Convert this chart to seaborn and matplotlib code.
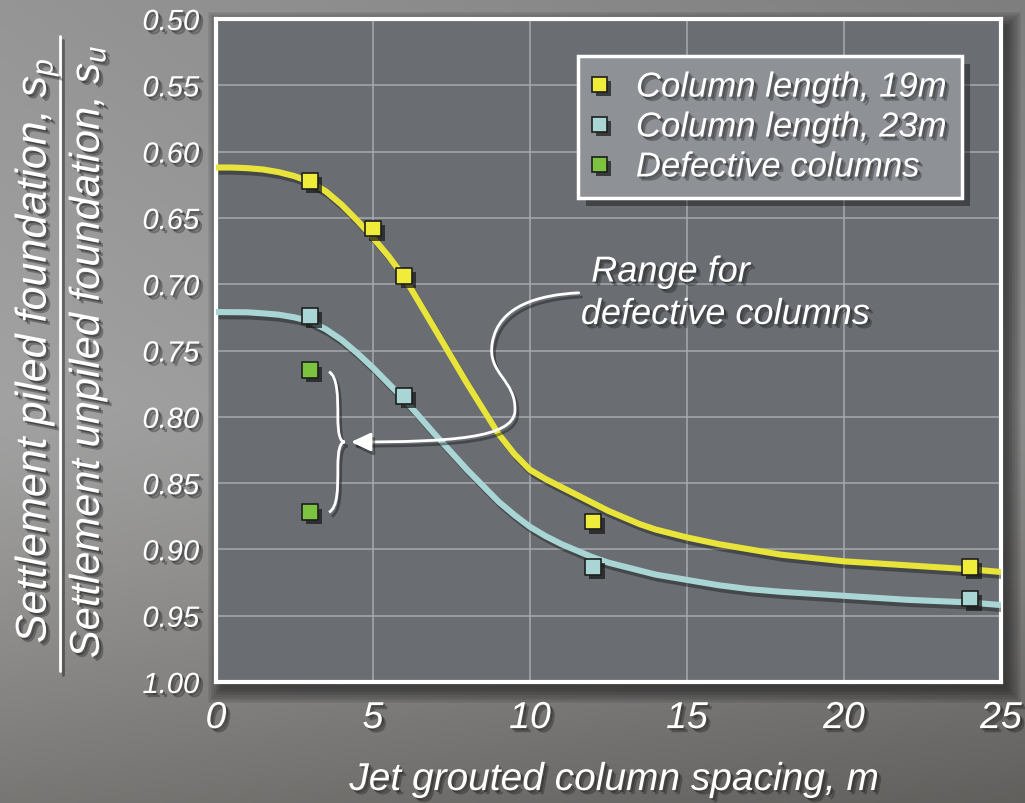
import numpy as np
import pandas as pd
import matplotlib
matplotlib.use("Agg")
import matplotlib.pyplot as plt
import matplotlib.patheffects as pe
from matplotlib.path import Path
from matplotlib.patches import FancyArrowPatch, PathPatch, Rectangle
from matplotlib.lines import Line2D
from matplotlib.font_manager import FontProperties
import seaborn as sns

# ---- measured settlement ratios ----
spacing_19m = [3, 5, 6, 12, 24]
ratio_19m = [0.622, 0.658, 0.694, 0.879, 0.913]

spacing_23m = [3, 6, 12, 24]
ratio_23m = [0.724, 0.784, 0.913, 0.937]

spacing_defect = [3, 3]
ratio_defect = [0.765, 0.872]

# ---- hand-fitted trend curves ----
trend_x_19m = [0, 0.5, 1, 1.5, 2, 2.5, 3, 3.5, 4, 4.5, 5, 5.5, 6, 7, 8, 9, 9.5,
               10, 10.5, 11, 11.5, 12, 12.5, 13, 13.5, 14, 15, 16, 17, 18, 20,
               22, 24, 25]
trend_y_19m = [0.612, 0.612, 0.6125, 0.6135, 0.6155, 0.6185, 0.623, 0.630,
               0.640, 0.652, 0.665, 0.679, 0.695, 0.735, 0.775, 0.813, 0.828,
               0.840, 0.847, 0.853, 0.859, 0.865, 0.871, 0.876, 0.881, 0.885,
               0.891, 0.896, 0.900, 0.904, 0.909, 0.912, 0.915, 0.917]

trend_x_23m = [0, 1, 1.5, 2, 2.5, 3, 3.5, 4, 4.5, 5, 5.5, 6, 7, 8, 9, 9.5, 10,
               10.5, 11, 11.5, 12, 12.5, 13, 14, 15, 16, 17, 18, 20, 22, 24, 25]
trend_y_23m = [0.721, 0.7212, 0.722, 0.723, 0.725, 0.728, 0.734, 0.742, 0.752,
               0.763, 0.775, 0.787, 0.814, 0.840, 0.864, 0.874, 0.883, 0.890,
               0.896, 0.901, 0.906, 0.910, 0.913, 0.919, 0.923, 0.927, 0.930,
               0.932, 0.935, 0.938, 0.940, 0.942]

x_ticks = [0, 5, 10, 15, 20, 25]
y_ticks = [0.50, 0.55, 0.60, 0.65, 0.70, 0.75, 0.80, 0.85, 0.90, 0.95, 1.00]

legend_labels = ["Column length, 19m", "Column length, 23m", "Defective columns"]

YELLOW = "#f0ec3a"
YELLOW_LINE = "#e8e43a"
CYAN = "#a9d5d5"
GREEN = "#7cc440"
PANEL = "#6a6e73"
GRID = "#a7abaf"
LEGEND_FACE = "#8e9297"

sns.set_theme(style="white")
plt.rcParams["font.family"] = ["Liberation Sans", "DejaVu Sans"]
plt.rcParams["font.style"] = "italic"
plt.rcParams["mathtext.fontset"] = "custom"
plt.rcParams["mathtext.rm"] = "Liberation Sans:italic"
plt.rcParams["mathtext.it"] = "Liberation Sans:italic"

W, H = 1025, 804
fig = plt.figure(figsize=(W / 100, H / 100), dpi=100)


def fx(px):
    return px / W


def fy(py):
    return 1 - py / H


text_fx = [pe.SimplePatchShadow(offset=(3, -3), shadow_rgbFace="#1c1c1c", alpha=0.35),
           pe.SimplePatchShadow(offset=(1.5, -1.5), shadow_rgbFace="#1c1c1c", alpha=0.45),
           pe.Normal()]
line_fx = [pe.SimpleLineShadow(offset=(2, -3), shadow_color="#1a1a1a", alpha=0.45),
           pe.Normal()]
mark_fx = [pe.SimplePatchShadow(offset=(3, -3), shadow_rgbFace="#151515", alpha=0.7),
           pe.Normal()]

# ---- shaded backdrop ----
bg = fig.add_axes([0, 0, 1, 1], zorder=-10)
bg.set_axis_off()
gy, gx = np.mgrid[0:1:300j, 0:1:300j]
upper = np.clip((0.5 - gy) / 0.5, 0, 1)
lower = np.clip((gy - 0.5) / 0.5, 0, 1)
v = 0.635 - 0.09 * gx - 0.05 * upper - 0.17 * lower ** 1.3
rgb = np.dstack([v + 0.008 * lower, v, v - 0.01 * lower])
bg.imshow(np.clip(rgb, 0, 1), extent=[0, 1, 0, 1], aspect="auto",
          interpolation="bicubic", origin="upper")
bg.set_xlim(0, 1)
bg.set_ylim(0, 1)

# soft shadow behind the plotting panel
ax_l, ax_r, ax_t, ax_b = 216, 1001, 20, 683
for i in range(10):
    grow = i * 1.6
    bg.add_patch(Rectangle((fx(ax_l + 6 - grow), fy(ax_b + 7 + grow)),
                           fx(ax_r - ax_l + 2 * grow), (ax_b - ax_t + 2 * grow) / H,
                           transform=fig.transFigure, facecolor="#111111",
                           edgecolor="none", alpha=0.07, zorder=1))

# ---- main panel ----
ax = fig.add_axes([fx(ax_l), fy(ax_b), fx(ax_r - ax_l), (ax_b - ax_t) / H])
ax.set_facecolor(PANEL)

df19 = pd.DataFrame({"spacing": trend_x_19m, "ratio": trend_y_19m})
df23 = pd.DataFrame({"spacing": trend_x_23m, "ratio": trend_y_23m})
sns.lineplot(data=df23, x="spacing", y="ratio", color=CYAN, lw=4.4, ax=ax,
             zorder=3, solid_capstyle="butt", solid_joinstyle="round")
ax.lines[-1].set_path_effects(line_fx)
sns.lineplot(data=df19, x="spacing", y="ratio", color=YELLOW_LINE, lw=4.4, ax=ax,
             zorder=3, solid_capstyle="butt", solid_joinstyle="round")
ax.lines[-1].set_path_effects(line_fx)

pts = [(spacing_19m, ratio_19m, YELLOW), (spacing_23m, ratio_23m, CYAN),
       (spacing_defect, ratio_defect, GREEN)]
for xs, ys, col in pts:
    sns.scatterplot(x=xs, y=ys, marker="s", s=130, color=col, edgecolor="#1e1e1e",
                    linewidth=1.2, ax=ax, zorder=5)
    ax.collections[-1].set_path_effects(mark_fx)

ax.set_xlim(0, 25)
ax.set_ylim(1.0, 0.5)
ax.set_xticks(x_ticks)
ax.set_xticklabels([str(t) for t in x_ticks])
ax.set_yticks(y_ticks)
ax.set_yticklabels([f"{t:.2f}" for t in y_ticks])
ax.grid(True, color=GRID, lw=1.1)
ax.set_axisbelow(True)
ax.tick_params(axis="both", length=0, colors="white")
ax.tick_params(axis="x", labelsize=27, pad=13)
ax.tick_params(axis="y", labelsize=21, pad=12)
for lab in ax.get_xticklabels() + ax.get_yticklabels():
    lab.set_path_effects(text_fx)
    lab.set_fontstyle("italic")
for sp in ax.spines.values():
    sp.set_color("white")
    sp.set_linewidth(3)

ax.set_xlabel("Jet grouted column spacing, m", fontsize=28, color="white",
              fontstyle="italic", path_effects=text_fx)
ax.xaxis.label.set_va("center")
ax.xaxis.set_label_coords((614 - ax_l) / (ax_r - ax_l), (ax_b - 781) / (ax_b - ax_t))
ax.set_ylabel("")

# ---- fraction-style y label ----
fig.text(fx(37), fy(352), r"Settlement piled foundation, $s_p$", rotation=90,
         ha="center", va="center", fontsize=31, color="white", path_effects=text_fx)
fig.text(fx(88), fy(353), r"Settlement unpiled foundation, $s_u$", rotation=90,
         ha="center", va="center", fontsize=30, color="white", path_effects=text_fx)
fig.add_artist(Line2D([fx(60), fx(60)], [fy(37), fy(672)], color="white", lw=2,
                      transform=fig.transFigure, path_effects=line_fx))

# ---- legend ----
handles = [Line2D([], [], ls="none", marker="s", markersize=10.5, markerfacecolor=c,
                  markeredgecolor="#1e1e1e", markeredgewidth=1.2,
                  path_effects=mark_fx)
           for c in (YELLOW, CYAN, GREEN)]
leg = ax.legend(handles, legend_labels, loc="upper right",
                bbox_to_anchor=((962 - ax_l) / (ax_r - ax_l), (ax_b - 57) / (ax_b - ax_t)),
                frameon=True, fancybox=False, facecolor=LEGEND_FACE,
                edgecolor="white", framealpha=1,
                prop=FontProperties(family="Liberation Sans", style="italic", size=25),
                labelcolor="white", handletextpad=0.85, borderpad=0.42,
                labelspacing=0.2, handlelength=0.4, borderaxespad=0)
leg.get_frame().set_linewidth(2.5)
leg.get_frame().set_path_effects([pe.SimplePatchShadow(offset=(6, -6), shadow_rgbFace="#111111", alpha=0.45),
                                  pe.Normal()])
for t in leg.get_texts():
    t.set_path_effects(text_fx)

# ---- annotation: range of defective columns ----
ax.text(11.95, 0.698, "Range for", fontsize=26, color="white", ha="left",
        va="baseline", path_effects=text_fx, zorder=6)
ax.text(11.62, 0.730, "defective columns", fontsize=26, color="white", ha="left",
        va="baseline", path_effects=text_fx, zorder=6)

arrow_verts = [(11.55, 0.7065),
               (10.3, 0.708), (9.0, 0.716), (8.8, 0.744),
               (8.62, 0.768), (9.58, 0.772), (9.52, 0.796),
               (9.45, 0.816), (7.5, 0.819), (4.3, 0.819)]
arrow_codes = [Path.MOVETO] + [Path.CURVE4] * 9
arrow = FancyArrowPatch(path=Path(arrow_verts, arrow_codes),
                        arrowstyle="-|>,head_length=0.75,head_width=0.35",
                        mutation_scale=16, color="white", lw=2, zorder=6,
                        path_effects=line_fx)
ax.add_patch(arrow)

brace_verts = [(3.60, 0.766),
               (3.88, 0.770), (3.88, 0.785), (3.88, 0.800),
               (3.88, 0.813), (3.95, 0.819), (4.10, 0.819),
               (3.95, 0.819), (3.88, 0.825), (3.88, 0.838),
               (3.88, 0.855), (3.88, 0.868), (3.60, 0.872)]
brace_codes = [Path.MOVETO] + [Path.CURVE4] * 12
ax.add_patch(PathPatch(Path(brace_verts, brace_codes), fill=False,
                       edgecolor="white", lw=2, zorder=6, path_effects=line_fx))

fig.savefig("out.png", dpi=100, facecolor=fig.get_facecolor())
